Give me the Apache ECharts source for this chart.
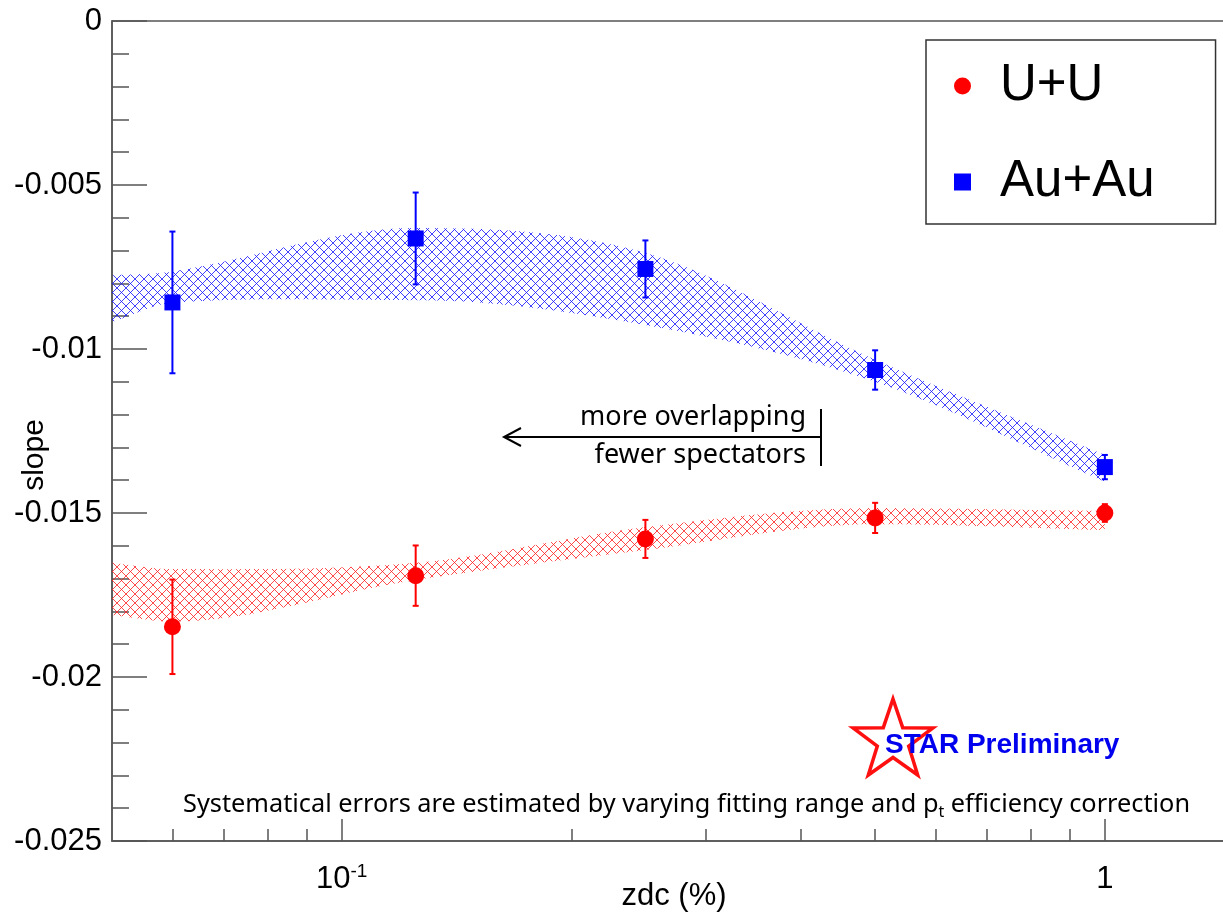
<!DOCTYPE html>
<html>
<head>
<meta charset="utf-8">
<script src="https://cdn.jsdelivr.net/npm/echarts@6/dist/echarts.min.js"></script>
<style>
  html, body { margin: 0; padding: 0; background: #fff; }
  #chart { width: 1223px; height: 917px; }
</style>
</head>
<body>
<div id="chart"></div>
<script>
// zdc centrality points
const xVals = [0.06, 0.125, 0.25, 0.5, 1];
// U+U
const uuSlope = [-0.01847, -0.01691, -0.01579, -0.01515, -0.0150];
const uuStatErr = [0.00144, 0.00092, 0.00058, 0.00046, 0.00027];
// Au+Au
const auSlope = [-0.00858, -0.00663, -0.00756, -0.01064, -0.0136];
const auStatErr = [0.00216, 0.0014, 0.00087, 0.0006, 0.00037];
// systematic bands (upper / lower edge)
const bandX = [0.05, 0.06, 0.125, 0.25, 0.5, 1];
const uuSysHi = [-0.01652, -0.01671, -0.01652, -0.01543, -0.01485, -0.01494];
const uuSysLo = [-0.01811, -0.01831, -0.01704, -0.01613, -0.01534, -0.01552];
const auSysHi = [-0.00775, -0.00764, -0.00631, -0.00707, -0.01033, -0.01323];
const auSysLo = [-0.00918, -0.00859, -0.00851, -0.00927, -0.0110, -0.01405];
// axis ticks
const xMajorTicks = [0.1, 1];
const xMinorTicks = [0.06, 0.07, 0.08, 0.09, 0.2, 0.3, 0.4, 0.5, 0.6, 0.7, 0.8, 0.9];

const axisColor = '#555';

// cross hatch fill for the systematic bands
function hatch(color) {
    const c = document.createElement('canvas');
    c.width = 9; c.height = 9;
    const g = c.getContext('2d');
    g.strokeStyle = color;
    g.lineWidth = 1;
    g.beginPath();
    g.moveTo(-1, -1); g.lineTo(10, 10);
    g.moveTo(10, -1); g.lineTo(-1, 10);
    g.stroke();
    return { image: c, repeat: 'repeat' };
}

// monotone cubic hermite through pixel points (x increasing), only to draw a smooth edge
function smoothEdge(p, steps) {
    const n = p.length;
    const sec = [];
    for (let i = 0; i < n - 1; i++) sec.push((p[i + 1][1] - p[i][1]) / (p[i + 1][0] - p[i][0]));
    const d = p.map(function (pt, i) {
        if (i === 0) return sec[0];
        if (i === n - 1) return sec[n - 2];
        if (sec[i - 1] * sec[i] <= 0) return 0;
        const a = p[i - 1], b = p[i + 1];
        return (b[1] - a[1]) / (b[0] - a[0]);
    });
    const out = [];
    for (let i = 0; i < n - 1; i++) {
        const h = p[i + 1][0] - p[i][0];
        for (let k = 0; k < steps; k++) {
            const t = k / steps, t2 = t * t, t3 = t2 * t;
            const y = (2 * t3 - 3 * t2 + 1) * p[i][1] + (t3 - 2 * t2 + t) * h * d[i]
                + (-2 * t3 + 3 * t2) * p[i + 1][1] + (t3 - t2) * h * d[i + 1];
            out.push([p[i][0] + t * h, y]);
        }
    }
    out.push(p[n - 1]);
    return out;
}

function bandSeries(lo, hi, color) {
    const fill = hatch(color);
    return {
        type: 'custom',
        silent: true,
        clip: true,
        z: 1,
        data: bandX.map((x, i) => [x, lo[i], hi[i]]),
        encode: { x: 0, y: [1, 2] },
        renderItem: function (params, api) {
            if (params.dataIndex !== 0) return null;
            const top = [], bot = [];
            for (let i = 0; i < bandX.length; i++) {
                top.push(api.coord([api.value(0, i), api.value(2, i)]));
                bot.push(api.coord([api.value(0, i), api.value(1, i)]));
            }
            const pts = smoothEdge(top, 16).concat(smoothEdge(bot, 16).reverse());
            return {
                type: 'polygon',
                shape: { points: pts },
                style: { fill: fill, stroke: null }
            };
        }
    };
}

function errorSeries(vals, errs, color) {
    return {
        type: 'custom',
        silent: true,
        z: 3,
        data: xVals.map((x, i) => [x, vals[i] - errs[i], vals[i] + errs[i]]),
        encode: { x: 0, y: [1, 2] },
        renderItem: function (params, api) {
            const x = api.value(0);
            const lo = api.coord([x, api.value(1)]);
            const hi = api.coord([x, api.value(2)]);
            const s = { stroke: color, lineWidth: 2 };
            return {
                type: 'group',
                children: [
                    { type: 'line', shape: { x1: lo[0], y1: lo[1], x2: hi[0], y2: hi[1] }, style: s },
                    { type: 'line', shape: { x1: hi[0] - 3, y1: hi[1], x2: hi[0] + 3, y2: hi[1] }, style: s },
                    { type: 'line', shape: { x1: lo[0] - 3, y1: lo[1], x2: lo[0] + 3, y2: lo[1] }, style: s }
                ]
            };
        }
    };
}

function starPoints(cx, cy, R, r) {
    const pts = [];
    for (let i = 0; i < 10; i++) {
        const a = -Math.PI / 2 + i * Math.PI / 5;
        const rad = i % 2 === 0 ? R : r;
        pts.push([cx + rad * Math.cos(a), cy + rad * Math.sin(a)]);
    }
    return pts;
}

const myChart = echarts.init(document.getElementById('chart'));

myChart.setOption({
    animation: false,
    backgroundColor: '#fff',
    grid: {
        left: 112,
        top: 21,
        width: 1116,
        height: 820,
        containLabel: false,
        outerBoundsMode: 'none',
        show: true,
        borderColor: axisColor,
        borderWidth: 1.5,
        backgroundColor: 'transparent'
    },
    legend: {
        left: 926,
        top: 40,
        orient: 'vertical',
        data: [
            { name: 'U+U', icon: 'circle' },
            { name: 'Au+Au', icon: 'rect' }
        ],
        itemWidth: 17,
        itemHeight: 17,
        itemGap: 36,
        padding: [16, 61, 12, 28],
        borderColor: '#333',
        borderWidth: 1.5,
        backgroundColor: '#fff',
        textStyle: {
            fontFamily: 'Liberation Sans',
            fontSize: 51,
            color: '#000',
            lineHeight: 60,
            padding: [0, 0, 0, 24]
        }
    },
    xAxis: [
        {
            type: 'log',
            logBase: 10,
            min: 0.05,
            max: 1.45,
            position: 'bottom',
            axisLine: { show: true, onZero: false, lineStyle: { color: axisColor, width: 1.5 } },
            axisTick: { show: true, inside: true, length: 22, customValues: xMajorTicks, lineStyle: { color: axisColor, width: 1.5 } },
            axisLabel: {
                customValues: xMajorTicks,
                margin: 21,
                formatter: function (v) {
                    return Math.abs(v - 0.1) < 1e-6 ? '{b|10}{s|-1}' : '{b|1}';
                },
                rich: {
                    b: { fontFamily: 'Liberation Sans', fontSize: 31, color: '#000', lineHeight: 34 },
                    s: { fontFamily: 'Liberation Sans', fontSize: 19, color: '#000', lineHeight: 19, verticalAlign: 'top' }
                }
            },
            splitLine: { show: false },
            name: 'zdc (%)',
            nameLocation: 'middle',
            nameGap: 40,
            nameMoveOverlap: false,
            nameTextStyle: { fontFamily: 'Liberation Sans', fontSize: 31, color: '#000', padding: [0, 0, 0, 8] }
        },
        {
            type: 'log',
            logBase: 10,
            min: 0.05,
            max: 1.45,
            position: 'bottom',
            axisLine: { show: false, onZero: false },
            axisTick: { show: true, inside: true, length: 12, customValues: xMinorTicks, lineStyle: { color: axisColor, width: 1.5 } },
            axisLabel: { show: false },
            splitLine: { show: false }
        }
    ],
    yAxis: {
        type: 'value',
        min: -0.025,
        max: 0,
        interval: 0.005,
        axisLine: { show: true, onZero: false, lineStyle: { color: axisColor, width: 1.5 } },
        axisTick: { show: true, inside: true, length: 35, lineStyle: { color: axisColor, width: 1.5 } },
        minorTick: { show: true, splitNumber: 5, length: 17, lineStyle: { color: axisColor, width: 1.5 } },
        axisLabel: {
            fontFamily: 'Liberation Sans',
            fontSize: 31,
            color: '#000',
            margin: 10,
            formatter: function (v) { return String(Number(v.toFixed(3))); }
        },
        splitLine: { show: false },
        name: 'slope',
        nameLocation: 'middle',
        nameGap: 62,
        nameMoveOverlap: false,
        nameTextStyle: { fontFamily: 'Liberation Sans', fontSize: 30, color: '#000', padding: [0, 48, 0, 0] }
    },
    series: [
        bandSeries(auSysLo, auSysHi, 'rgba(20,20,255,0.8)'),
        bandSeries(uuSysLo, uuSysHi, 'rgba(255,30,30,0.8)'),
        errorSeries(uuSlope, uuStatErr, '#ff0000'),
        errorSeries(auSlope, auStatErr, '#0000ff'),
        {
            name: 'U+U',
            type: 'scatter',
            symbol: 'circle',
            symbolSize: 17,
            itemStyle: { color: '#ff0000', opacity: 1 },
            data: xVals.map((x, i) => [x, uuSlope[i]]),
            z: 4
        },
        {
            name: 'Au+Au',
            type: 'scatter',
            symbol: 'rect',
            symbolSize: 16,
            itemStyle: { color: '#0000ff', opacity: 1 },
            data: xVals.map((x, i) => [x, auSlope[i]]),
            z: 4
        }
    ],
    graphic: [
        // direction arrow
        { type: 'polyline', shape: { points: [[821, 437], [504, 437]] }, style: { stroke: '#000', lineWidth: 2 } },
        { type: 'polyline', shape: { points: [[521, 428], [504, 437], [521, 446]] }, style: { stroke: '#000', lineWidth: 2, fill: null } },
        { type: 'line', shape: { x1: 821, y1: 409, x2: 821, y2: 466 }, style: { stroke: '#000', lineWidth: 2 } },
        {
            type: 'text', x: 806, y: 417,
            style: { text: 'more overlapping', fontFamily: 'Noto Sans', fontSize: 27, fill: '#000', align: 'right', verticalAlign: 'middle' }
        },
        {
            type: 'text', x: 806, y: 455,
            style: { text: 'fewer spectators', fontFamily: 'Noto Sans', fontSize: 27, fill: '#000', align: 'right', verticalAlign: 'middle' }
        },
        // STAR logo
        {
            type: 'polygon',
            shape: { points: starPoints(893, 741, 42, 16.5) },
            style: { fill: '#fff', stroke: '#ff1010', lineWidth: 3.5 }
        },
        {
            type: 'text', x: 885, y: 745,
            style: { text: 'STAR Preliminary', fontFamily: 'Liberation Sans', fontWeight: 'bold', fontSize: 28, fill: '#0000ee', verticalAlign: 'middle' }
        },
        // systematics note
        {
            type: 'text', x: 183, y: 805,
            style: {
                text: '{a|Systematical errors are estimated by varying fitting range and p}{sub|t}{a| efficiency correction}',
                verticalAlign: 'middle',
                rich: {
                    a: { fontFamily: 'Noto Sans', fontSize: 25.3, fill: '#000', lineHeight: 32 },
                    sub: { fontFamily: 'Noto Sans', fontSize: 16, fill: '#000', lineHeight: 32, padding: [14, 0, 0, 0] }
                }
            }
        }
    ]
});
</script>
</body>
</html>
